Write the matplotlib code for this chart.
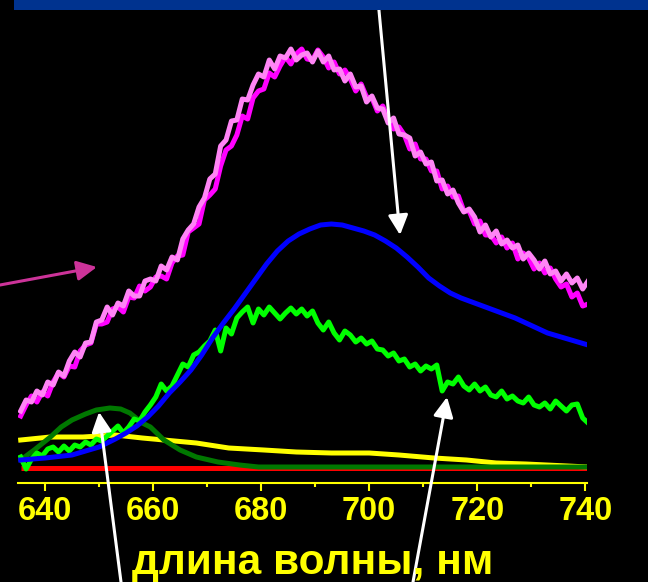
import numpy as np
import matplotlib
matplotlib.use("Agg")
import matplotlib.pyplot as plt
from matplotlib.patches import Rectangle

plt.rcParams['font.family'] = ['Liberation Sans', 'DejaVu Sans']

# wavelength grid for the noisy spectra, nm
wl = np.arange(635.5, 741.0, 1.0)

pink = [72, 83, 81, 92, 88, 101, 98, 111, 107, 122, 131, 126, 140, 141, 161, 163,
        176, 168, 180, 177, 192, 187, 187, 202, 204, 202, 217, 213, 226, 223, 244,
        253, 259, 276, 285, 304, 309, 337, 343, 362, 363, 384, 383, 398, 409, 406,
        423, 414, 427, 425, 434, 423, 428, 430, 421, 432, 421, 427, 413, 414, 402,
        409, 396, 397, 381, 387, 375, 374, 360, 365, 349, 348, 345, 327, 331, 319,
        321, 302, 303, 289, 293, 280, 271, 274, 266, 251, 258, 246, 252, 239, 243,
        235, 238, 224, 230, 223, 214, 222, 209, 212, 202, 209, 200, 205, 194, 202]

magenta = [67, 78, 87, 81, 91, 87, 101, 110, 106, 117, 116, 132, 138, 140, 159, 159,
           161, 174, 176, 171, 186, 185, 197, 192, 196, 206, 207, 204, 220, 227, 228,
           251, 255, 259, 283, 288, 294, 317, 333, 337, 348, 367, 364, 385, 392, 394,
           410, 406, 417, 426, 419, 429, 434, 424, 423, 433, 426, 415, 421, 409, 413,
           404, 392, 399, 386, 385, 372, 377, 364, 354, 356, 348, 334, 339, 324, 324,
           312, 312, 294, 297, 286, 287, 272, 272, 259, 262, 248, 248, 240, 246, 235,
           240, 224, 230, 225, 214, 220, 210, 215, 204, 196, 199, 186, 190, 177, 179]

green = [26, 14, 24, 30, 27, 34, 36, 31, 37, 32, 38, 36, 41, 38, 44, 42, 47, 52, 57,
         50, 56, 64, 62, 71, 78, 86, 99, 92, 97, 108, 119, 116, 128, 131, 137, 142,
         153, 132, 155, 149, 165, 171, 176, 160, 174, 168, 176, 170, 164, 170, 175,
         169, 174, 167, 172, 160, 153, 161, 150, 143, 152, 148, 141, 145, 139, 142,
         134, 133, 127, 130, 122, 124, 116, 119, 112, 117, 114, 118, 92, 101, 99, 106,
         97, 93, 99, 92, 96, 88, 86, 92, 84, 87, 82, 80, 86, 78, 76, 80, 74, 82, 77,
         72, 78, 79, 65, 60]

blue_wl = [635.5, 640, 645, 650, 653, 655, 657, 659, 661, 663, 665, 667, 669, 671,
           673, 675, 677, 679, 681, 683, 685, 687, 689, 691, 693, 695, 697, 699, 701,
           703, 705, 707, 709, 711, 713, 715, 717, 722, 727, 733, 740.5]
blue = [23, 25, 28, 36, 44, 50, 57, 66, 77, 90, 101, 113, 128, 145, 160, 174, 189,
        204, 219, 232, 242, 249, 254, 258, 259, 258, 255, 252, 248, 242, 235, 226,
        216, 205, 197, 190, 185, 175, 165, 150, 138]

dgreen_wl = [635.5, 638, 641, 643, 645, 647.5, 649.5, 652, 654, 655.7, 658, 659.5,
             662, 665, 668, 672, 676, 679.5, 690, 705, 720, 740.5]
dgreen = [23, 33, 46, 56, 63, 69, 73, 75, 74, 70, 60, 56, 43, 33, 26, 21, 18, 16,
          16, 16, 16, 16]

yellow_wl = [635.5, 641, 647, 653, 658, 662, 668, 674, 680.5, 686.5, 693, 700,
             705.5, 712, 718, 723.5, 729, 740.5]
yellow = [43, 46, 46, 48, 45, 43, 40, 35, 33, 31, 30, 30, 28, 25, 23, 20, 19, 16]

red_wl = [635.5, 740.5]
red = [15, 15]

fig = plt.figure(figsize=(6.48, 5.82), dpi=100, facecolor='black')
ax = fig.add_axes([18 / 648, 1 - 483 / 582, 569 / 648, 468 / 582])
ax.set_facecolor('black')

lw = 3.6
ax.plot(red_wl, red, color='#FF0000', lw=lw, solid_capstyle='butt')
ax.plot(yellow_wl, yellow, color='#FFFF00', lw=lw)
ax.plot(dgreen_wl, dgreen, color='#007800', lw=lw)
ax.plot(wl, green, color='#00FF00', lw=lw, solid_joinstyle='round')
ax.plot(blue_wl, blue, color='#0000FF', lw=lw)
ax.plot(wl, magenta, color='#FF00FF', lw=lw)
ax.plot(wl, pink, color='#FF85F5', lw=lw)

ax.set_xlim(635.0, 740.3)
ax.set_ylim(0, 468)

for s in ['top', 'right', 'left']:
    ax.spines[s].set_visible(False)
ax.spines['bottom'].set_color('#FFFF00')
ax.spines['bottom'].set_linewidth(1.5)
ax.set_yticks([])
ax.set_xticks([640, 660, 680, 700, 720, 740])
ax.set_xticks([650, 670, 690, 710, 730], minor=True)
ax.tick_params(axis='x', which='major', colors='#FFFF00', length=6, width=1.5,
               direction='out', pad=3)
ax.tick_params(axis='x', which='minor', colors='#FFFF00', length=3, width=1.5,
               direction='out')
for t in ax.get_xticklabels():
    t.set_fontsize(23.5)
    t.set_fontweight('bold')

fig.text(313 / 648, 1 - 574 / 582, 'длина волны, нм', color='#FFFF00', fontsize=30.5,
         fontweight='bold', ha='center', va='baseline')

# blue band along the top
fig.add_artist(Rectangle((14 / 648, 1 - 10 / 582), 1, 10 / 582, transform=fig.transFigure,
                         facecolor='#00338F', edgecolor='none'))

aprops = dict(arrowstyle='-|>,head_length=0.6,head_width=0.3', color='white',
              lw=2.2, mutation_scale=20, shrinkA=0, shrinkB=0)
ax.annotate('', xy=(705.7, 248), xytext=(378 / 648, 1.0), textcoords='figure fraction',
            arrowprops=aprops, annotation_clip=False).set_clip_on(False)
ax.annotate('', xy=(650.0, 71), xytext=(121 / 648, 0.0), textcoords='figure fraction',
            arrowprops=aprops, annotation_clip=False).set_clip_on(False)
ax.annotate('', xy=(714.4, 86), xytext=(413 / 648, 0.0), textcoords='figure fraction',
            arrowprops=aprops, annotation_clip=False).set_clip_on(False)
pprops = dict(aprops, color='#CC3399')
ax.annotate('', xy=(649.6, 216), xytext=(0.0, 1 - 285 / 582), textcoords='figure fraction',
            arrowprops=pprops, annotation_clip=False).set_clip_on(False)

fig.savefig('out.png', dpi=100, facecolor='black')
